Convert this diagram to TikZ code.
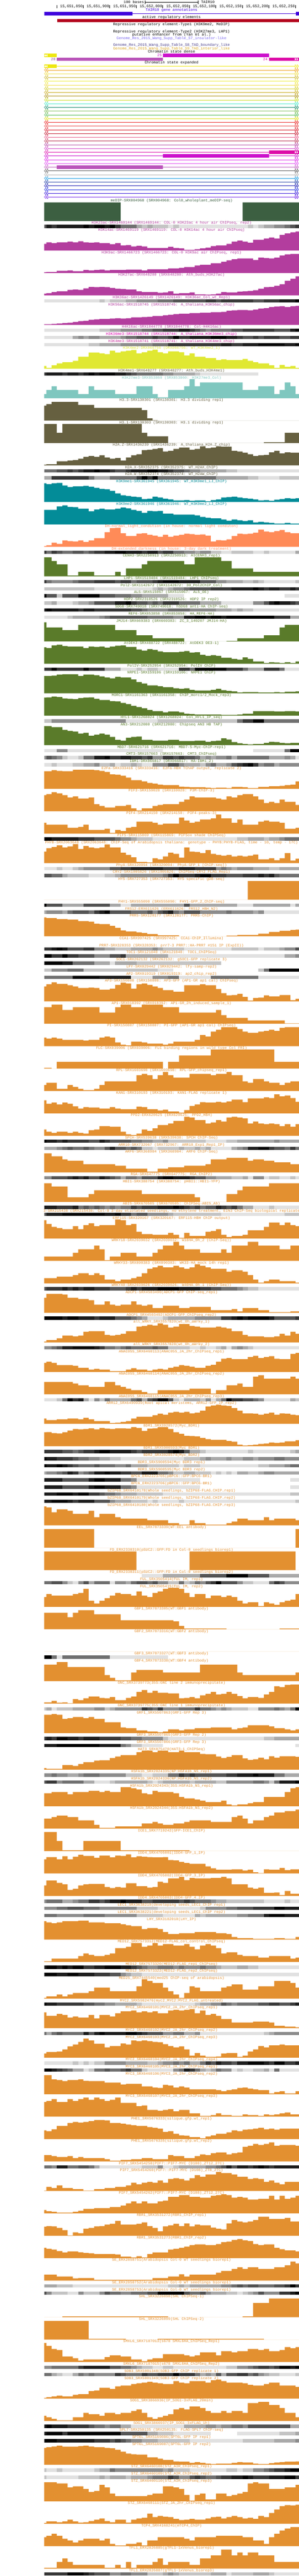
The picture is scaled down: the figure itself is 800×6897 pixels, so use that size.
\documentclass[tikz,border=0pt]{standalone}
\usepackage{fontspec}
\setmainfont{Liberation Mono}
\catcode`\_=12
\definecolor{genec}{HTML}{4000DC}
\definecolor{redb}{HTML}{B4001E}
\definecolor{st7}{HTML}{7B68EE}
\definecolor{st8}{HTML}{483D8B}
\definecolor{st9}{HTML}{DAA520}
\definecolor{medip}{HTML}{3C5F41}
\definecolor{acet}{HTML}{B33D9E}
\definecolor{kts}{HTML}{DC00AC}
\definecolor{kfm}{HTML}{C8329C}
\definecolor{yel}{HTML}{E0E832}
\definecolor{hist}{HTML}{666040}
\definecolor{mint}{HTML}{7FC7BF}
\definecolor{teal2}{HTML}{038C98}
\definecolor{dhc}{HTML}{FF8B58}
\definecolor{grn}{HTML}{5A7B2A}
\definecolor{org}{HTML}{E39030}
\definecolor{s25}{HTML}{CC10CC}
\definecolor{s24}{HTML}{DD0AA8}
\definecolor{s28}{HTML}{BA55BA}
\definecolor{s1}{HTML}{EEE810}
\definecolor{g0}{HTML}{FFFFFF}
\definecolor{g1}{HTML}{E1E1E1}
\definecolor{g2}{HTML}{C4C4C4}
\definecolor{g3}{HTML}{A9A9A9}
\definecolor{g4}{HTML}{8C8C8C}
\definecolor{g5}{HTML}{707070}
\definecolor{g6}{HTML}{545454}
\definecolor{g7}{HTML}{383838}
\definecolor{g8}{HTML}{1C1C1C}
\definecolor{g9}{HTML}{000000}
\tikzset{
  lab/.style={inner sep=0pt,outer sep=0pt,anchor=base,font=\fontsize{10}{12}\selectfont},
  labr/.style={inner sep=0pt,outer sep=0pt,anchor=base east,font=\fontsize{10}{12}\selectfont},
  labl/.style={inner sep=0pt,outer sep=0pt,anchor=base west,font=\fontsize{10}{12}\selectfont},
  thin1/.style={line width=1pt},
  openarrow/.style={line width=0.8pt}
}
\newcount\ycur
\newcount\nn
\expandafter\def\csname E0\endcsname{118}
\foreach \k in {1,...,48}{%
  \pgfmathtruncatemacro\v{round(124+(\k-1)*14.185)}%
  \expandafter\xdef\csname E\k\endcsname{\v}}
\foreach \k in {49,...,60}{\expandafter\xdef\csname E\k\endcsname{800}}
\newcommand\tlabel[2]{%
  \global\advance\nn 1
  \edef\bl{\the\numexpr\ycur+8\relax}%
  \node[lab,text=#2] (tl\the\nn) at (459,\bl) {#1};}
\newcommand\trackW[3]{% label, colour, heights
  \tlabel{#1}{#2}%
  \edef\by{\the\numexpr\ycur+60\relax}%
  \gdef\pth{}%
  \foreach \h [count=\i from 0] in {#3}{%
    \pgfmathsetmacro\ty{round(\by-\h/\zs)}%
    \pgfmathtruncatemacro\j{\i+1}%
    \edef\xa{\csname E\i\endcsname}\edef\xb{\csname E\j\endcsname}%
    \xdef\pth{\pth -- (\xa,\ty) -- (\xb,\ty)}}%
  \edef\dopath{\noexpand\fill[#2] (118,\by) \pth -- (800,\by) -- cycle;}\dopath
  \global\advance\ycur 60 }
\newcommand\trackD[3]{% label, colour, level/endedge
  \tlabel{#1}{#2}%
  \edef\yt{\the\numexpr\ycur+10\relax}\edef\yb{\the\numexpr\ycur+19\relax}%
  \foreach \lv/\ee [remember=\ee as \pe (initially 0)] in {#3}{%
    \edef\xa{\csname E\pe\endcsname}\edef\xb{\csname E\ee\endcsname}%
    \fill[g\lv] (\xa,\yt) rectangle (\xb,\yb);}%
  \global\advance\ycur 19 }
\newcommand\leftopen[1]{%
  \draw[openarrow,#1] (123,\yc-4.5) -- (118.5,\yc) -- (123,\yc+4.5) -- cycle;
  \draw[openarrow,#1] (128,\yc-4.5) -- (123.5,\yc) -- (128,\yc+4.5) -- cycle;}
\newcommand\rightopen[1]{%
  \draw[openarrow,#1] (790,\yc-4.5) -- (794.5,\yc) -- (790,\yc+4.5) -- cycle;
  \draw[openarrow,#1] (795,\yc-4.5) -- (799.5,\yc) -- (795,\yc+4.5) -- cycle;}
\newcommand\whiteleft[1]{%
  \fill[white] (123,#1-3.5) -- (119,#1) -- (123,#1+3.5) -- cycle;
  \fill[white] (127,#1-3.5) -- (123,#1) -- (127,#1+3.5) -- cycle;}
\newcommand\whiteright[1]{%
  \fill[white] (789,#1-3.5) -- (793,#1) -- (789,#1+3.5) -- cycle;
  \fill[white] (794,#1-3.5) -- (798,#1) -- (794,#1+3.5) -- cycle;}
\begin{document}
\begin{tikzpicture}[x=1pt,y=-1pt]
\useasboundingbox (0,0) rectangle (800,6897);
\fill[white] (0,0) rectangle (800,6897);
% scale bar
\node[labr] (bases) at (385,9) {100 bases};
\coordinate (sa) at (388.5,6.5);
\coordinate (sb) at (529.5,6.5);
\draw[thin1] (sa) -- (sb);
\draw[thin1] (388.5,2) -- (388.5,11);
\draw[thin1] (529.5,2) -- (529.5,11);
\node[labl] (asm) at (538,9) {TAIR10};
% ruler
\foreach \x in {152,222,293,364,435,506,577,648,719,790}{\draw[thin1] (\x.5,13.5) -- (\x.5,22);}
\node[labr] (r1) at (221,20) {15,651,850};
\node[labr] (r2) at (292,20) {15,651,900};
\node[labr] (r3) at (363,20) {15,651,950};
\node[labr] (r4) at (434,20) {15,652,000};
\node[labr] (r5) at (505,20) {15,652,050};
\node[labr] (r6) at (576,20) {15,652,100};
\node[labr] (r7) at (647,20) {15,652,150};
\node[labr] (r8) at (718,20) {15,652,200};
\node[labr] (r9) at (789,20) {15,652,250};
\node[lab,text=genec] (t1) at (459,30) {TAIR10 gene annotations};
\fill[genec] (118,32) rectangle (354,41);
\draw[genec,thin1] (354,36.5) -- (792,36.5);
\fill[genec] (792,32) rectangle (800,41);
\node[lab] (t2) at (459,49) {active regulatory elements};
\fill[redb] (153,51) rectangle (800,60);
\node[lab] (t3) at (459,68) {Repressive regulatory element-Type1 (H3K9me2, MeDIP)};
\node[lab] (t4) at (459,87) {Repressive regulatory element-Type2 (H3K27me3, LHP1)};
\node[lab] (t5) at (459,96) {putative enhancer from (Yan et al.)};
\node[lab,text=st7] (t6) at (459,105) {Genome_Res_2015_Wang_Supp_Table_S7_insulator-like};
\node[lab,text=st8] (t7) at (459,124) {Genome_Res_2015_Wang_Supp_Table_S8_TAD_boundary_like};
\node[lab,text=st9] (t8) at (459,133) {Genome_Res_2015_Wang_Supp_Table_S9_TAD_interior_like};
\node[lab] (t9) at (459,142) {Chromatin state dense};
\fill[s1] (118,144) rectangle (152,153);
\whiteleft{148.5}
\node[labr,text=s25] (n25) at (433,151.5) {25};
\fill[s25] (436,144) rectangle (720,153);
\node[labr,text=s28!75!black] (n28) at (148.5,161.5) {28};
\fill[s28] (152,154) rectangle (436,163);
\node[labr,text=s24] (n24) at (716,161.5) {24};
\fill[s24] (720,154) rectangle (800,163);
\whiteright{158.5}
\node[lab] (t10) at (459,171) {Chromatin state expanded};
% expanded rows
\foreach \k/\c in {0/EEE810,1/EE9A10,2/EEDD40,3/C8B428,4/EEEE40,5/F0DC40,6/D0CC20,7/C8A818,8/A88C08,9/C8DC20,10/48E8C8,11/108868,12/70B848,13/50B850,14/DDDD10,15/E81818,16/E84040,17/D81020,18/C01028,19/E85888,20/B83050,21/B040A0,22/D040C8,23/DD0AA8,24/CC10CC,25/DD20E8,26/E050F0,27/BA55BA,28/505050,29/B0B0B0,30/1098E0,31/1030A0,32/1010B0,33/2030E0,34/3010D8,35/7020E8}{%
  \pgfmathsetmacro\yc{177.5+10*\k}
  \definecolor{rowc}{HTML}{\c}
  \draw[rowc,thin1] (128,\yc) -- (790,\yc);
  \ifnum\k=0\relax\else\leftopen{rowc}\fi
  \ifnum\k=23\relax\else\rightopen{rowc}\fi
}
\fill[s1] (118,173) rectangle (152,182);
\whiteleft{177.5}
\fill[s24] (720,403) rectangle (800,412);
\whiteright{407.5}
\fill[s25] (436,413) rectangle (720,422);
\fill[s28] (152,443) rectangle (436,452);
% ---------------- tracks
\global\ycur=532
\def\zs{1}
\trackW{meDIP-SRX004968 (SRX004968: Col0_wholeplant_meDIP-seq)}{medip}{50,50,50,50,50,50,50,50,50,50,50,50,50,50,50,0,0,0,0,0,0,0,0,0,0,0,0,0,0,0,0,0,0,0,0,0,0,0,50,50,50,50,50,50,50,50,50,50,50}
\def\zs{2.613}
\trackD{H3K23ac-SRX1469144 (SRX1469144: COL-0 H3K23ac 4 hour air ChIPseq, rep2)}{acet}{6/1,8/2,7/3,8/8,9/9,8/10,9/12,8/13,9/14,7/15,5/18,3/19,2/20,3/21,2/24,1/25,2/26,1/39,2/40,1/41,2/42,3/44,4/46,5/47,6/48,7/49}
\trackW{H3K14ac-SRX1469119 (SRX1469119: COL-0 H3K14ac 4 hour air ChIPseq)}{acet}{47,57,52,57,57,62,57,65,57,54,57,52,52,44,52,36,39,28,33,28,17,17,17,17,26,18,15,5,5,10,15,20,32,36,36,47,62,70,62,54,75,75,83,91,83,109,120,128,133}
\trackW{H3K9ac-SRX1466723 (SRX1466723: COL-0 H3K9ac air ChIPseq, rep1)}{acet}{4,7,9,15,15,18,13,13,21,18,21,23,18,21,21,21,23,23,23,18,26,26,26,26,31,31,36,42,42,52,57,57,68,68,78,89,96,102,102,102,91,107,104,102,107,123,130,133,133}
\trackW{H3K27ac-SRX648280 (SRX648280: Ath_buds_H3K27ac)}{acet}{13,16,23,29,29,39,42,39,50,60,57,60,57,52,47,44,42,42,29,23,23,23,18,21,29,13,16,16,21,8,8,5,8,13,23,21,21,26,29,31,36,47,57,60,68,78,102,118,133}
\trackD{H3K36ac-SRX1426149 (SRX1426149: H3K36ac_Col_wt_Rep1)}{acet}{1/11,2/12,1/13,2/16,3/18,4/22,5/25,6/31,7/33,6/34,7/40,6/42,7/45,8/48,9/49}
\trackW{H3K56ac-SRX1518745 (SRX1518745: A_thaliana_H3K56ac_chip)}{acet}{6,6,8,11,14,16,21,27,29,37,40,42,42,45,47,45,47,53,53,55,58,62,62,68,71,76,79,79,84,84,87,87,89,89,92,100,102,105,105,102,108,115,118,126,129,131,126,131,134}
\trackD{H4K16ac-SRX1044778 (SRX1044778: Col-H4K16ac)}{acet}{1/11,2/13,3/15,4/19,5/21,6/23,7/26,8/28,7/29,6/30,5/31,4/32,5/36,6/38,7/44,6/47,8/48,9/49}
\trackD{H3K36me3-SRX1518744 (SRX1518744: A_thaliana_H3K36me3_chip)}{kts}{1/6,3/7,4/8,3/9,4/11,3/15,4/16,5/18,6/21,7/22,6/24,7/25,9/26,7/28,8/32,9/35,8/37,7/38,6/40,7/41,6/42,7/45,6/47,7/49}
\trackD{H3K4me3-SRX1518741 (SRX1518741: A_thaliana_H3K4me3_chip)}{kfm}{1/9,2/11,3/15,4/21,5/24,7/34,8/36,7/38,8/41,9/46,8/48,9/49}
\trackW{H3K4me2-DRX066756 (DRX066756: WT_H3K4me2_1)}{yel}{18,5,23,36,44,44,55,83,83,112,112,107,102,125,112,120,125,130,107,115,125,133,115,107,120,120,115,91,107,83,83,73,73,60,65,60,60,60,68,55,44,36,36,23,5,26,13,18,5}
\trackD{H3K4me1-SRX648277 (SRX648277: Ath_buds_H3K4me1)}{hist}{7/1,8/4,7/5,8/7,7/8,8/9,9/10,8/11,9/14,8/16,7/17,6/18,5/23,4/25,3/29,2/30,1/41,0/49}
\trackW{H3K27me3-SRX853860 (SRX853860: H3K27me3_Col)}{mint}{28,57,83,57,57,57,57,28,28,83,57,57,57,57,28,28,28,28,83,83,83,28,4,4,57,57,57,83,133,83,109,109,109,109,109,109,109,109,57,57,57,83,83,83,28,57,109,83,28}
\def\zs{1}
\trackW{H3.3-SRX130301 (SRX130301: H3.3 dividing rep1)}{hist}{40,44,50,50,50,50,50,42,42,42,34,34,34,34,34,34,34,34,34,28,6,1,0,0,0,0,0,0,0,0,0,0,0,0,0,0,0,0,0,0,0,0,0,0,0,0,0,0,0}
\def\zs{2.24}
\trackW{H3.1-SRX130303 (SRX130303: H3.1 dividing rep1)}{hist}{114,114,114,61,114,114,114,114,114,114,114,114,114,114,114,114,114,114,114,61,40,40,40,40,0,0,0,0,0,0,0,0,0,0,0,0,0,0,0,0,0,0,4,4,4,4,61,61,61}
\trackW{H2A.Z-SRX1436239 (SRX1436239: A_thaliana_H2A.Z_chip)}{hist}{4,6,6,24,24,29,31,40,51,56,52,60,47,40,45,29,47,60,67,92,94,98,103,83,87,98,107,107,94,98,114,103,107,114,112,112,87,83,76,67,56,60,62,78,87,71,78,76,76}
\trackD{H2A.X-SRX352375 (SRX352375: WT_H2AX_ChIP)}{hist}{5/3,6/5,7/6,6/7,7/8,8/10,9/11,8/13,7/14,6/16,7/17,8/20,9/22,8/24,7/25,6/27,5/28,4/30,3/35,2/37,1/49}
\trackD{H2A.W-SRX352374 (SRX352374: WT_H2AW_ChIP)}{hist}{3/2,7/9,5/10,3/13,5/18,7/19,9/20,7/21,9/22,5/33,3/39,2/41,1/45,2/49}
\trackW{H3K9me1-SRX361945 (SRX361945: WT_H3K9me1_LJ_ChIP)}{teal2}{112,108,112,114,99,90,94,94,97,92,85,79,76,67,51,41,36,32,29,18,20,32,27,20,16,8,8,11,6,8,8,5,11,15,27,29,32,27,23,20,15,9,11,6,14,18,23,20,23}
\trackW{H3K9me2-SRX361946 (SRX361946: WT_H3K9me2_LJ_ChIP)}{teal2}{87,87,87,107,114,105,103,94,94,78,89,94,89,89,94,101,96,87,80,69,80,78,80,65,65,58,58,58,58,54,45,40,36,36,29,22,29,24,20,24,11,15,11,9,4,4,9,4,4}
\trackW{DH-normal_light_condition (in house: normal light conditon)}{dhc}{4,8,25,18,38,34,32,38,30,38,52,52,88,111,115,81,65,65,79,81,72,68,61,72,61,68,72,79,77,72,74,68,32,41,38,45,65,79,77,79,86,103,92,88,94,101,88,81,81}
\trackD{DH-extended_darkness (in house: 3-day dark treatment)}{dhc}{7/1,5/2,7/3,6/4,5/6,6/8,5/9,6/10,7/12,8/14,9/16,8/19,7/20,8/22,6/23,7/25,5/27,4/29,3/30,4/32,2/34,1/36,2/40,1/42,2/43,1/48,3/49}
\trackW{CENH3-SRX2250913 (SRX2250913: AtCENH3_rep1)}{grn}{115,115,92,72,72,5,5,27,27,27,5,5,5,5,27,5,47,47,47,72,92,92,92,92,92,92,92,72,72,115,115,115,115,115,92,92,47,47,47,47,27,27,27,27,27,27,27,27,27}
\trackD{LHP1-SRX1519404 (SRX1519404: LHP1 ChIPseq)}{grn}{7/1,5/2,4/6,5/7,6/10,7/14,6/15,7/17,5/18,6/21,7/22,8/23,9/26,8/30,6/33,4/35,3/38,2/40,3/41,2/42,1/48,2/49}
\trackD{Pol2-SRX1142672 (SRX1142672: 30_Pol2ChIP_Col)}{grn}{2/10,1/21,2/22,3/23,2/24,3/25,4/27,5/28,6/32,7/36,8/40,9/41,8/42,7/43,8/45,7/47,8/48,7/49}
\trackD{AL5-SRX515067 (SRX515067: AL5_OE)}{grn}{9/1,6/3,2/4,6/7,9/11,6/14,5/17,4/19,3/24,1/27,0/46,1/49}
\trackD{HDP2-SRX2310526 (SRX2310526: HDP2 IP rep2)}{grn}{2/2,3/3,1/6,2/7,3/9,4/10,6/14,8/16,9/17,7/18,6/20,5/21,6/22,5/23,7/26,5/30,3/34,1/40,4/42,6/43,8/44,9/45,8/47,7/48,6/49}
\trackD{SDG8-SRX749018 (SRX749018: hSDG8 anti-HA ChIP-seq)}{grn}{8/1,9/2,8/7,7/8,8/10,7/17,6/19,5/20,4/24,5/28,4/33,3/36,2/37,3/38,2/40,1/49}
\trackD{REF6-SRX853858 (SRX853858: HA_REF6-HA)}{grn}{1/5,2/6,3/11,4/12,5/13,6/20,5/25,4/27,8/29,9/31,8/32,9/34,8/35,9/44,7/47,3/49}
\trackW{JMJ14-SRX669383 (SRX669383: ZC_3_140207 JMJ14-HA)}{grn}{114,83,83,83,67,67,67,99,99,99,99,99,99,99,67,67,67,67,35,35,35,19,19,19,19,19,19,0,0,0,0,0,0,0,0,3,3,19,19,19,19,19,35,35,35,83,99,99,99}
\trackW{AtDEK3-SRX488722 (SRX488722: AtDEK3 OE3-1)}{grn}{99,94,110,115,106,103,103,103,94,103,101,103,97,103,108,110,101,101,85,79,88,83,74,70,70,70,72,76,67,70,54,47,52,47,36,36,29,25,38,29,13,13,4,8,6,4,8,4,13}
\trackD{PolIV-SRX252954 (SRX252954: PolIV ChIP)}{grn}{7/2,9/3,7/8,9/9,7/12,3/15,1/18,2/19,1/20,2/22,1/26,7/28,5/29,9/35,7/38,5/39,3/42,7/45,5/46,1/49}
\trackW{NRPE1-SRX159106 (SRX159106: NRPE1 ChIP)}{grn}{103,103,106,112,115,115,115,103,112,112,108,101,94,90,99,94,94,83,67,58,47,47,43,36,36,29,27,29,20,16,16,16,20,27,18,14,11,5,7,7,7,5,5,5,7,5,9,9,12}
\trackW{MORC1-SRX1161363 (SRX1161358: ChIP_morc1/2_Mock_rep3)}{grn}{107,110,114,112,103,101,98,105,107,110,101,94,94,87,85,76,69,58,51,44,33,27,27,20,25,25,20,12,9,7,7,7,7,7,4,4,4,7,11,11,27,27,27,27,25,25,27,27,25}
\trackD{HYL1-SRX1268024 (SRX1268024: Col_HYL1_IP_seq)}{grn}{2/2,4/16,1/22,2/37,5/38,7/40,9/42,5/49}
\trackW{AN3-SRX212080 (SRX212080: Chipseq AN3 HB TAP)}{grn}{114,114,107,107,92,85,81,69,74,56,63,69,63,49,31,27,45,49,51,31,31,27,27,27,31,31,25,25,25,27,27,20,25,27,40,34,18,11,7,4,7,7,13,20,18,13,11,13,13}
\trackD{MBD7-SRX621716 (SRX621716: MBD7-5-Myc-ChIP-rep1)}{grn}{1/3,4/5,1/23,0/40,1/46,5/47,9/49}
\trackD{CMT3-SRX157663 (SRX157663: CMT3_ChIPseq)}{grn}{4/1,6/2,5/3,4/4,2/5,1/7,2/8,5/10,8/12,9/13,7/15,8/17,7/19,6/20,7/21,4/23,7/25,6/26,7/27,6/29,5/30,3/31,4/32,3/33,4/35,5/36,3/37,5/43,3/46,4/47,3/48,1/49}
\trackD{IBM1-DRX066817 (DRX066817: HA-IBM1_2)}{grn}{1/2,2/3,1/6,2/8,3/10,4/11,2/13,3/14,1/15,2/17,3/18,2/19,1/21,4/24,6/26,4/27,3/30,2/31,4/32,5/33,3/35,4/36,6/37,7/38,8/39,9/40,7/41,4/42,5/44,3/45,4/49}
\trackW{E2Fa-SRX333416 (SRX333416: E2Fa-HBH TChAP output, replicate 2)}{org}{105,105,112,107,105,105,114,114,114,114,112,107,101,87,85,78,67,51,51,45,36,31,24,22,22,22,13,11,8,8,8,6,4,6,6,4,11,11,8,4,4,11,11,16,16,17,22,24,45}
\trackW{PIF3-SRX159028 (SRX159028: P3M-ChIP-3)}{org}{97,104,115,108,97,84,90,77,77,84,43,32,23,23,32,32,39,18,5,18,18,32,39,43,43,43,56,70,90,84,84,84,84,77,70,90,84,97,104,104,90,70,50,56,50,70,56,56,39}
\trackW{PIF4-SRX214150 (SRX214150: PIF4-peaks-3)}{org}{65,54,54,54,54,36,36,40,54,22,22,22,29,5,22,15,36,40,72,72,72,65,54,61,61,61,96,79,65,72,85,85,92,114,92,92,65,85,54,54,54,72,79,72,72,65,29,29,36}
\trackD{PIF5-SRX115869 (SRX115869: PIF5ox shade ChIPSeq)}{org}{9/2,8/7,7/10,6/14,5/15,4/17,3/18,2/21,1/37,2/39,3/42,2/43,3/45,4/46,5/49}
\trackW{PHYB-SRX2063648 (SRX2063648: ChIP-Seq of Arabidopsis thaliana: genotype - PHYB:PHYB-FLAG, time - 10, temp - 17C)}{org}{70,90,96,108,94,101,114,85,103,94,90,94,112,94,94,63,49,36,7,7,5,29,22,40,63,56,34,94,70,67,61,79,56,49,45,49,40,45,40,45,52,22,22,29,18,29,61,16,27}
\trackD{PhyA-SRX320094 (SRX320094: PhyA-GFP_1 [ChIP-seq])}{org}{1/3,2/4,1/6,2/7,3/8,4/13,6/15,7/17,8/23,7/26,8/29,7/33,4/34,5/35,4/36,3/37,4/40,3/43,2/45,3/49}
\trackD{CRY2-SRX1005826 (SRX1005826: ChIPSeq-CRY2_FLAG_Rep1)}{org}{6/2,5/4,3/5,2/9,1/12,2/14,3/15,4/23,5/24,7/25,9/26,7/29,8/30,9/32,7/35,6/38,7/41,8/42,7/43,8/44,6/45,5/49}
\trackW{HY5-SRX727353 (SRX727353: HY5 specific gDB-seq)}{org}{0,0,0,0,0,0,0,0,0,0,0,0,0,0,0,0,0,0,0,0,0,0,0,0,0,0,0,0,0,0,0,0,0,0,0,0,0,0,0,112,112,112,112,112,112,112,112,112,112}
\trackD{FHY1-SRX555090 (SRX555090: FHY1-GFP_2_ChIP-seq)}{org}{9/1,6/4,3/8,6/13,3/15,1/17,3/27,6/28,3/37,1/40,3/47,1/48,3/49}
\trackD{FRS12-ERX611626 (ERX611626: FRS12_HBH_N2)}{org}{3/1,4/4,3/5,5/6,6/9,5/10,7/11,8/12,9/13,6/17,5/20,6/21,4/22,6/23,7/24,8/25,5/26,4/27,6/30,4/35,5/36,4/40,3/41,4/42,1/49}
\trackW{PRR5-SRX128177 (SRX128177: PRR5-ChIP)}{org}{114,109,109,104,102,100,100,92,92,87,76,74,74,62,52,36,29,29,25,21,13,13,6,6,6,6,0,0,0,0,0,0,0,0,0,4,4,9,9,9,9,16,16,26,26,33,33,38,41}
\trackD{CCA1-SRX997425 (SRX997425: CCA1-ChIP_Illumina)}{org}{0/49}
\trackD{PRR7-SRX328353 (SRX328353: prr7-3 PRR7::HA-PRR7 \#151 IP (ExpII))}{org}{7/2,8/3,9/4,8/5,6/8,7/10,4/12,3/14,2/17,3/21,4/22,3/23,2/27,1/36,2/41,1/42,2/45,3/46,4/48,6/49}
\trackD{TOC1-SRX121040 (SRX121040: TOC1_ChIPSeq)}{org}{9/2,7/4,9/5,7/7,6/10,4/13,6/15,7/16,3/24,1/46,3/48,4/49}
\trackD{SOC1-SRX262132 (SRX262132: gSOC1-GFP replicate 3)}{org}{9/4,8/6,5/10,3/13,1/14,3/18,2/34,0/49}
\trackD{LFY-SRX029442 (SRX029442: lfy-samp-rep2)}{org}{2/2,4/5,5/8,2/22,1/25,0/41,2/42,5/43,9/49}
\trackD{AP2-SRX019319 (SRX019319: ap2_chip_rep2)}{org}{5/6,9/11,8/17,1/21,4/24,5/26,1/32,5/41,1/49}
\trackW{AP3-SRX150808 (SRX150808: AP3-GFP (AP1-GR ap1 cal) ChIPseq)}{org}{90,103,115,106,106,97,90,81,81,83,81,70,70,76,99,112,108,76,103,108,99,90,81,68,68,59,59,97,97,97,103,97,97,74,50,36,38,45,27,5,20,23,36,29,29,38,38,7,16}
\trackW{AP1-SRX018392 (SRX018392: AP1-GR_2h_induced_sample_1)}{org}{98,98,114,114,83,83,98,98,98,98,98,67,67,67,98,114,114,98,98,114,114,114,114,98,98,98,67,67,67,67,67,67,67,83,51,36,36,36,36,20,20,20,20,20,20,20,3,3,3}
\trackW{PI-SRX150807 (SRX150807: PI-GFP (AP1-GR ap1 cal) ChIPseq)}{org}{51,44,51,44,38,38,38,38,33,38,38,51,58,51,22,8,4,26,26,22,15,15,15,8,15,26,26,26,26,38,67,58,87,98,114,114,114,103,87,80,80,87,91,98,91,109,114,114,114}
\trackW{FLC-SRX039006 (SRX039006: FLC binding regions in wild type Col FRI)}{org}{4,4,0,40,40,40,40,40,40,40,40,40,40,40,40,40,40,40,40,40,40,40,40,0,40,40,79,79,79,79,79,79,114,114,114,114,114,114,114,114,114,114,114,114,40,40,40,40,40}
\trackW{RPL-SRX1603698 (SRX1603698: RPL-GFP_chipseq_rep1)}{org}{36,49,49,13,13,36,24,13,4,4,13,36,58,58,58,58,58,58,94,103,94,71,94,114,94,80,80,80,103,103,103,103,94,103,103,114,94,94,58,49,71,71,58,49,49,36,49,58,58}
\trackW{KAN1-SRX310193 (SRX310193: KAN1-FLAG replicate 1)}{org}{79,59,65,54,65,59,43,29,38,36,36,29,29,38,29,25,25,25,41,38,25,25,18,23,11,11,5,20,45,54,68,65,65,70,65,72,83,83,68,90,90,90,97,92,115,103,108,92,70}
\trackW{PPD2-ERX620625 (ERX620625: PPD2_HBH)}{org}{38,25,18,25,25,18,25,18,13,34,38,58,58,54,54,25,9,4,13,38,29,45,65,65,74,90,90,114,110,94,94,74,81,94,85,110,114,110,105,74,85,74,69,74,69,58,69,54,69}
\trackD{SPCH-SRX539638 (SRX539638: SPCH ChIP-Seq)}{org}{9/1,8/3,7/4,8/5,7/9,6/11,8/12,7/13,6/17,5/19,4/21,3/23,4/24,2/31,1/35,2/37,3/44,4/45,3/49}
\trackD{ARR10-SRX732967 (SRX732967: ARR10_Exp1_Rep1_IP)}{org}{3/3,4/4,5/5,6/6,5/8,6/9,5/10,4/12,6/13,8/14,6/16,5/17,6/18,5/19,2/21,1/22,2/26,3/27,2/29,3/30,2/31,3/32,1/36,3/37,4/38,5/39,8/41,9/43,7/44,6/46,5/47,7/48,5/49}
\trackW{ARF6-SRX368984 (SRX368984: ARF6 ChIP-Seq)}{org}{115,115,97,97,79,70,70,70,50,50,50,50,50,50,41,41,23,23,23,23,5,5,23,23,32,32,32,41,41,41,41,50,79,79,79,88,88,88,88,70,79,79,70,70,61,61,61,50,50}
\trackD{RGA-SRX647775 (SRX647775: RGA_ChIP2)}{org}{4/2,6/5,7/6,8/7,7/8,8/9,6/11,8/12,7/13,6/14,5/15,3/16,5/18,4/19,6/22,8/23,9/25,8/28,7/29,6/31,4/33,3/36,2/38,3/39,1/40,4/42,1/43,2/45,1/47,2/48,1/49}
\def\zs{1}
\trackW{HBI1-SRX388754 (SRX388754: pHBI1::HBI1-YFP)}{org}{50,50,41,41,41,12,12,12,12,21,31,31,31,31,31,31,31,31,31,21,21,21,21,21,21,21,21,21,21,12,0,0,0,0,0,21,21,31,41,41,41,41,41,50,50,50,50,50,50}
\def\zs{2.09}
\trackD{ABI5-SRX670505 (SRX670505: ChIPSeq-ABI5_Ab)}{org}{8/3,7/6,8/7,5/8,6/9,5/10,6/11,5/12,4/13,5/14,4/15,5/17,7/18,6/19,7/22,8/25,9/26,8/27,7/28,6/29,7/30,5/31,6/33,8/34,7/35,6/36,7/37,5/38,3/40,1/43,2/44,1/49}
\begin{scope}
\edef\yt{\the\ycur}\edef\yb{\the\numexpr\ycur+10\relax}
\clip (118,\yt) rectangle (800,\yb);
\tlabel{EIN3-SRX215430 (SRX215430: Col-0 3-day etiolated seedlings, no ethylene treatment, EIN3 ChIP-Seq biological replicate 1)}{org}
\end{scope}
\trackD{}{org}{6/1,8/4,9/12,8/14,9/15,7/17,5/18,6/20,4/24,3/25,2/34,1/46,2/49}
\trackW{ERF115-SRX320167 (SRX320167: ERF115-HBH ChIP output)}{org}{103,82,65,59,53,53,69,53,76,86,69,76,76,76,107,103,76,82,38,25,25,21,21,21,32,21,5,32,15,15,15,38,42,53,21,9,15,15,21,46,46,46,65,90,90,76,90,76,69}
\trackW{WRKY18-SRX2039032 (SRX2039032: W18HA_0h_2 (ChIP-Seq))}{org}{25,25,25,25,25,25,46,65,65,65,86,65,4,25,25,46,46,46,25,25,25,46,65,86,86,107,86,65,65,65,46,46,46,46,65,46,86,86,86,107,107,86,86,86,86,65,65,86,86}
\trackW{WRKY33-SRX890383 (SRX890383: WK33-HA mock 14h rep1)}{org}{29,29,29,37,37,37,46,56,56,46,56,46,20,20,12,20,20,29,37,56,81,89,98,89,89,98,89,81,89,106,98,89,81,81,81,64,73,73,64,46,20,4,12,20,20,12,12,12,4}
\trackD{WRKY40-SRX2039026 (SRX2039026: W40HA_0h_1 (ChIP-Seq))}{org}{6/1,7/4,8/5,7/6,8/7,7/8,8/10,7/13,6/16,7/17,8/18,7/19,8/22,9/26,8/30,7/32,6/34,5/37,4/38,3/39,2/41,1/49}
\trackW{ADCP1-SRX4503490(ADCP1-GFP ChIP-seq_rep1)}{org}{84,107,107,107,103,84,84,78,78,71,46,46,65,46,40,46,46,65,46,40,46,28,28,40,40,40,28,28,34,34,34,34,15,15,15,15,21,9,28,28,28,15,15,4,4,4,4,9,9}
\trackD{ADCP1_SRX4503492(ADCP1-GFP_ChIPseq_rep2)}{org}{9/4,8/5,9/7,8/10,7/11,8/14,6/17,5/18,4/19,3/20,1/23,2/24,3/29,4/34,7/36,8/37,9/38,8/39,9/43,8/44,6/48,7/49}
\trackW{all_WRKY_SRX3557820(wt_0h_aWrky_1)}{org}{4,13,13,23,38,38,34,38,59,63,63,63,42,38,42,48,63,63,88,92,98,94,107,98,84,88,103,103,92,88,84,84,84,88,84,78,63,63,42,34,34,34,29,29,34,48,38,59,48}
\trackD{all_WRKY_SRX3557828(wt_0h_aWrky_2)}{org}{4/2,5/3,6/4,8/6,9/10,8/11,7/12,5/14,4/15,5/16,6/17,5/21,6/22,5/24,2/28,1/30,2/31,1/33,2/34,3/35,1/36,3/37,4/38,3/39,2/40,1/49}
\trackW{ANAC055_SRX6460113(ANAC055_JA_2hr_ChIPseq_rep1)}{org}{50,56,50,38,38,38,33,23,23,13,17,13,13,4,4,4,13,21,13,13,6,13,17,13,23,29,38,33,29,23,23,33,40,56,73,77,71,71,71,84,90,77,84,88,73,71,71,100,107}
\trackW{ANAC055_SRX6460114(ANAC055_JA_2hr_ChIPseq_rep2)}{org}{69,69,69,69,69,69,60,50,50,41,41,41,69,69,50,41,31,23,23,13,4,4,23,23,23,23,23,23,31,31,31,31,4,23,23,50,50,60,41,41,98,106,88,88,88,88,88,98,88}
\trackD{ANAC055_SRX6460115(ANAC055_JA_2hr_ChIPseq_rep3)}{org}{1/3,2/4,5/5,9/6,7/7,8/8,3/9,1/10,4/11,2/12,5/13,3/17,5/18,6/19,3/20,6/21,7/22,9/24,6/25,2/26,1/27,3/30,2/31,4/32,1/33,3/34,5/35,9/36,7/38,6/40,5/41,4/42,1/47,3/48,2/49}
\trackW{ARR12_SRX6490939(Root apical meristems, ARR12-GFP_IP_rep2)}{org}{30,21,21,26,26,30,30,26,34,26,15,15,15,5,7,11,15,30,40,40,40,49,57,51,63,67,63,67,59,63,74,97,103,107,103,101,88,74,59,59,57,51,57,63,51,59,57,51,49}
\trackW{BDR1_SRX3928572(Myc_BDR1)}{org}{77,79,73,71,77,88,96,94,96,100,94,102,98,96,100,100,98,107,102,86,98,100,107,107,96,77,69,59,56,54,46,40,35,35,35,29,25,8,4,6,8,13,15,21,19,21,27,27,33}
\trackD{BDR1_SRX5900593(Myc BDR1)}{org}{7/4,6/6,5/7,6/8,7/10,8/11,9/13,8/17,7/18,6/19,7/24,8/25,9/26,8/27,6/28,3/30,2/31,1/39,2/40,1/47,2/48,3/49}
\trackD{BDR2_SRX3928574(Myc_BDR2)}{org}{9/1,8/3,7/6,6/7,5/9,4/11,3/13,2/15,1/27,2/30,3/31,4/32,3/35,4/36,3/38,4/40,3/41,4/44,5/46,4/49}
\trackD{BDR3_SRX5900594(Myc BDR3 rep1)}{org}{9/1,8/3,9/4,8/5,7/6,6/7,5/10,6/11,5/14,4/16,5/17,3/20,2/26,1/27,2/30,1/41,2/43,3/46,4/47,5/49}
\trackD{BDR3_SRX5900595(Myc BDR3 rep2)}{org}{3/1,4/3,5/4,6/5,8/6,7/7,4/8,5/9,6/10,8/12,9/13,8/15,7/17,6/19,8/22,5/24,4/25,2/27,3/29,2/32,1/33,2/34,1/35,2/36,1/37,3/39,2/41,3/42,4/44,3/49}
\trackD{BPC6_ERX2223705(pBPC6::GFP:BPC6-BR1)}{org}{8/4,6/9,8/10,9/12,8/15,5/17,4/18,1/30,0/47,1/49}
\trackD{BPC6_ERX2223706(pBPC6::GFP:BPC6-BR1)}{org}{8/4,6/9,8/10,9/12,8/15,5/17,4/18,1/30,0/47,1/49}
\trackD{bZIP68_SRX6410178(Whole seedlings, bZIP68-FLAG.CHIP.rep1)}{org}{8/3,9/6,8/7,9/9,7/11,6/12,5/14,4/15,3/18,2/23,1/47,2/49}
\trackD{bZIP68_SRX6410179(Whole seedlings, bZIP68-FLAG.CHIP.rep2)}{org}{8/2,9/5,8/6,7/7,8/10,6/13,4/14,3/17,2/20,1/21,2/22,1/26,2/27,1/48,2/49}
\trackW{bZIP68_SRX6410180(Whole seedlings, bZIP68-FLAG.CHIP.rep3)}{org}{106,100,73,90,90,81,65,65,65,81,46,65,65,65,46,37,37,37,37,37,29,29,29,29,12,12,4,4,29,12,12,4,4,4,4,12,21,37,37,29,29,29,46,29,37,37,37,37,29}
\trackW{EEL_SRX7873339(WT:EEL antibody)}{org}{105,105,105,105,105,105,105,105,105,105,0,0,0,0,0,0,0,0,0,0,0,0,0,0,0,0,0,0,0,0,0,0,0,0,0,0,0,0,0,0,0,0,0,0,0,0,0,0,105}
\trackW{FD_ERX2338310(pSUC2::GFP:FD in Col-0 seedlings biorep1)}{org}{105,105,105,105,105,105,105,105,105,105,105,105,105,105,105,105,105,105,0,0,0,0,0,0,0,0,0,0,105,105,105,105,105,105,105,105,105,105,105,105,105,105,105,105,105,105,105,105,0}
\trackD{FD_ERX2338311(pSUC2::GFP:FD in Col-0 seedlings biorep2)}{org}{0/19,1/23,3/30,6/35,9/39,6/43,3/49}
\trackD{FUL_SRX3505414(FUL IM, rep1)}{org}{5/2,6/4,4/5,2/6,1/7,4/8,6/9,3/10,5/13,1/14,4/16,3/17,5/18,6/20,5/21,6/22,4/24,2/26,5/27,2/28,3/29,5/30,4/31,6/32,7/33,9/34,6/37,4/38,2/40,1/43,5/44,7/45,6/46,4/49}
\trackW{FUL_SRX3505415(FUL IM, rep2)}{org}{54,71,63,63,63,63,71,77,100,33,19,33,48,63,77,71,71,63,86,63,54,77,86,100,107,107,100,77,54,71,71,48,63,63,54,63,54,33,19,25,25,4,25,19,10,25,33,40,71}
\trackW{GBF1_SRX7873305(WT:GBF1 antibody)}{org}{92,92,92,92,92,66,92,106,106,106,83,83,83,83,83,50,50,50,50,50,50,50,50,50,50,43,18,4,4,4,4,4,4,4,4,0,0,0,0,0,0,0,0,0,0,4,4,4,4}
\trackW{GBF2_SRX7873316(WT:GBF2 antibody)}{org}{0,0}
\trackD{GBF3_SRX7873327(WT:GBF3 antibody)}{org}{9/2,5/3,1/4,5/13,1/24,0/49}
\trackW{GBF4_SRX7873338(WT:GBF4 antibody)}{org}{92,92,92,107,107,79,79,79,79,79,79,79,33,19,4,4,4,48,63,63,63,63,63,48,48,48,48,48,48,48,92,92,92,92,92,92,92,48,33,33,33,33,33,33,33,33,33,33,48}
\trackW{GNC_SRX3739773(35S:GNC line 2 immunoprecipitate)}{org}{6,6,14,4,6,3,25,18,29,39,39,31,29,35,18,18,31,39,64,75,60,71,60,60,56,56,29,31,35,29,46,54,64,50,54,64,54,41,29,35,35,31,50,64,96,92,104,106,106}
\trackD{GNC_SRX3739775(35S:GNC line 1 immunoprecipitate)}{org}{2/1,3/2,1/3,2/6,3/10,4/12,2/13,3/14,4/19,7/20,6/21,5/22,7/23,4/26,5/29,7/30,5/32,4/33,3/34,4/35,3/36,2/39,1/41,4/44,5/45,4/46,3/47,5/48,9/49}
\trackW{GRF1_SRX5507863(GRF1-GFP Rep 3)}{org}{103,103,107,103,80,84,90,90,84,90,80,80,61,61,61,32,28,28,15,15,9,9,5,9,21,21,15,21,21,28,28,28,32,32,32,32,21,28,32,44,44,44,44,38,28,28,21,15,21}
\trackD{GRF3_SRX5507865(GRF3-GFP Rep 2)}{org}{7/1,8/2,7/3,9/5,8/7,7/8,8/11,7/15,6/17,5/19,4/23,2/24,1/42,2/44,3/49}
\trackD{GRF3_SRX5507866(GRF3-GFP Rep 3)}{org}{8/3,9/11,8/15,5/16,4/17,2/19,1/23,0/48,1/49}
\trackW{HAT3_SRX875470(HAT3-1_ChIPSeq)}{org}{9,5,5,5,26,26,21,32,42,42,51,53,53,65,74,82,82,82,98,106,106,98,106,106,98,98,106,98,98,98,88,85,85,74,65,72,82,82,63,55,59,67,59,76,67,76,76,76,72}
\trackD{HSFA1b_SRX2024335(NP:HSFA1b_NS_rep1)}{org}{4/2,5/3,4/5,3/7,4/8,5/11,4/16,2/19,1/21,2/24,5/26,7/27,6/28,7/29,6/35,7/37,8/40,9/41,8/44,5/46,3/49}
\trackD{HSFA1b_SRX2024336(NP:HSFA1b_NS_rep2)}{org}{6/1,7/3,4/4,5/8,3/10,1/13,2/14,3/20,2/21,1/22,2/23,3/28,2/29,3/33,2/35,4/40,5/42,4/43,2/44,5/45,8/48,9/49}
\trackW{HSFA1b_SRX2024343(35S:HSFA1b_NS_rep1)}{org}{73,73,79,79,79,66,79,79,79,85,85,79,85,79,79,106,106,100,94,73,66,85,79,79,79,73,52,43,43,37,31,22,22,22,31,10,4,10,10,16,22,22,52,52,52,52,79,100,106}
\trackW{HSFA1b_SRX2024344(35S:HSFA1b_NS_rep2)}{org}{57,57,65,73,73,65,65,46,46,46,21,4,4,4,12,12,12,12,12,29,29,38,29,21,21,29,29,38,46,46,46,46,38,38,38,38,65,73,57,29,46,46,65,73,90,90,98,98,107}
\trackW{ICE1_SRX7719242(GFP-ICE1_ChIP)}{org}{106,106,106,56,4,4,4,4,56,56,56,56,56,56,56,4,4,4,4,4,4,4,4,4,4,4,4,4,0,0,0,0,0,0,0,0,0,0,0,0,0,0,0,0,0,0,0,0,0}
\trackW{IDD4_SRX4705001(IDD4-GFP_1_IP)}{org}{80,92,92,80,96,80,94,105,99,99,88,101,101,90,101,99,107,90,96,94,92,90,90,92,76,73,65,59,55,55,55,40,30,21,21,21,23,23,17,21,7,3,23,21,21,32,19,23,23}
\trackW{IDD4_SRX4705002(IDD4-GFP_3_IP)}{org}{58,86,86,73,65,33,40,59,65,67,67,67,50,44,50,46,71,71,54,54,46,50,79,73,98,98,106,88,100,98,98,98,100,100,106,98,65,65,65,46,40,46,17,17,19,4,27,12,12}
\trackD{IDD4_SRX4705003(IDD4-GFP_4_IP)}{org}{4/1,5/4,3/6,4/7,5/9,7/11,6/12,7/13,8/15,9/16,8/19,6/21,7/26,6/27,7/28,6/29,5/32,4/33,3/35,2/42,1/46,2/47,1/49}
\trackD{LEC1_SRX3638219(developing seeds_LEC1_ChIP rep1)}{org}{4/3,5/5,6/8,5/11,4/18,2/22,1/30,2/31,4/35,5/37,6/40,7/44,9/46,8/49}
\trackD{LEC1_SRX3638221(developing seeds_LEC1_ChIP rep2)}{org}{5/3,4/8,5/12,4/18,2/23,1/29,3/30,2/31,3/37,4/39,5/42,8/43,9/46,8/49}
\trackW{LHY_SRX3182010(LHY_IP)}{org}{103,96,92,96,103,103,103,107,107,96,96,96,92,92,92,86,80,75,75,59,65,65,59,42,32,32,36,36,36,42,42,42,42,36,36,32,15,9,9,9,4,4,4,4,9,9,4,4,15}
\trackW{MED12_SRX7573312(MED12-FLAG_col_control_ChIPseq)}{org}{4,4,19,19,19,19,19,33,48,39,33,33,39,48,77,77,85,106,106,85,92,106,92,100,100,92,92,100,85,71,92,100,92,77,48,54,54,39,33,33,33,25,25,33,33,33,33,19,25}
\trackD{MED12_SRX7573320(MED12-FLAG_rep1_ChIPseq)}{org}{8/1,9/3,8/4,9/5,8/6,9/8,7/10,8/12,9/15,8/17,7/18,6/19,5/20,4/22,5/25,4/26,5/27,4/30,5/31,4/33,3/34,2/37,3/39,2/41,1/49}
\trackD{MED12_SRX7573322(MED12-FLAG_rep2_ChIPseq)}{org}{9/3,8/5,9/7,8/10,7/13,6/15,4/16,3/17,2/19,1/49}
\trackW{MED25_SRX7445540(med25 ChIP-seq of arabidopsis)}{org}{4,12,12,23,12,23,31,31,31,42,61,61,61,42,42,42,42,42,69,108,98,88,88,61,42,23,4,31,69,61,42,42,42,42,61,69,79,79,50,50,50,69,69,69,98,98,98,88,61}
\trackD{MYC2_SRX5982476(myc2_MYC2:MYC2_FLAG_untreated)}{org}{9/1,8/3,7/8,6/10,5/12,4/14,3/18,2/19,1/29,2/30,3/32,4/34,6/35,5/36,4/37,5/41,6/43,7/45,6/47,7/48,8/49}
\trackW{MYC2_SRX6460101(MYC2_JA_2hr_ChIPseq_rep1)}{org}{88,69,69,79,73,58,65,58,58,73,54,73,73,65,84,94,94,98,88,94,88,94,83,83,98,102,98,102,106,83,98,73,79,69,50,50,31,31,31,31,35,35,35,31,12,12,8,8,4}
\trackD{MYC2_SRX6460102(MYC2_JA_2hr_ChIPseq_rep2)}{org}{5/1,3/2,5/3,6/4,5/8,8/9,6/10,8/11,9/12,8/16,9/18,8/19,7/20,6/23,4/25,5/27,3/29,4/30,1/42,2/43,3/44,4/49}
\trackW{MYC2_SRX6460103(MYC2_JA_2hr_ChIPseq_rep3)}{org}{23,31,31,33,46,62,73,87,106,96,77,77,56,64,64,79,73,96,92,96,92,87,85,75,64,56,62,46,10,25,10,4,4,6,23,25,25,4,10,33,46,64,56,69,69,73,69,69,69}
\trackD{MYC2_SRX6460104(MYC2_JA_2hr_ChIPseq_rep4)}{org}{1/6,2/7,1/8,2/9,1/10,2/12,4/16,3/20,2/22,3/23,4/25,5/26,4/27,5/28,3/30,5/31,7/32,6/33,8/34,7/36,6/37,8/39,9/42,8/43,7/44,9/46,7/48,8/49}
\trackD{MYC3_SRX6460105(MYC3_JA_2hr_ChIPseq_rep1)}{org}{9/2,8/3,7/4,6/5,5/6,3/8,1/9,2/10,5/12,6/13,5/15,6/16,7/17,5/19,2/20,1/25,4/26,5/27,8/28,7/29,5/30,3/31,2/32,3/33,5/34,4/36,1/37,2/38,1/40,2/42,3/43,1/44,5/45,1/49}
\trackW{MYC3_SRX6460106(MYC3_JA_2hr_ChIPseq_rep2)}{org}{106,106,83,79,73,79,79,83,75,73,73,73,64,64,64,54,58,58,58,44,44,37,35,52,48,37,44,37,27,27,27,27,27,23,16,23,27,35,37,31,27,23,23,4,12,16,4,4,16}
\trackW{MYC3_SRX6460107(MYC3_JA_2hr_ChIPseq_rep3)}{org}{82,88,98,82,82,98,88,98,107,94,107,98,88,94,107,78,78,78,59,63,38,38,34,38,42,30,38,38,19,19,4,4,9,19,9,9,4,4,13,9,9,4,13,9,13,19,23,13,13}
\trackW{PHE1_SRX5676333(silique.gfp.wt_rep1)}{org}{48,44,54,73,73,90,96,92,96,100,106,106,104,90,90,86,81,77,73,73,67,63,58,40,44,29,21,19,10,10,4,15,21,29,29,37,48,44,52,54,58,63,54,58,52,58,58,58,58}
\trackW{PHE1_SRX5676335(silique.gfp.wt_rep2)}{org}{36,36,30,25,25,30,19,25,19,19,19,19,13,4,4,9,9,13,13,19,19,13,13,13,36,30,30,19,19,30,40,36,46,51,51,40,46,51,82,88,99,92,99,107,88,92,92,92,88}
\trackD{PIF7_SRX5454258(PIF7::PIF7-MYC (D108)_ZT12_27C)}{org}{5/2,4/3,8/5,5/7,6/9,5/10,3/11,1/19,2/22,4/23,1/25,2/26,3/31,4/33,5/34,6/35,8/36,6/37,8/39,7/40,8/41,9/42,8/43,7/44,8/49}
\trackW{PIF7_SRX5454260(PIF7::PIF7-MYC (D108)_ZT8_27C)}{org}{3,23,16,31,16,16,10,10,3,3,10,10,16,16,23,23,31,45,37,45,51,45,58,45,66,72,66,58,72,87,79,93,93,106,100,100,93,79,79,66,72,66,51,58,45,37,51,51,51}
\trackW{PIF7_SRX5454262(PIF7::PIF7-MYC (D108)_ZT12_27C)}{org}{19,13,8,4,4,4,8,14,25,25,29,29,29,35,35,44,56,67,56,67,56,56,67,71,92,92,102,102,92,92,88,88,98,102,106,102,88,92,88,77,77,81,81,98,77,98,81,88,98}
\trackW{RBR1_SRX3531272(RBR1_ChIP_rep1)}{org}{51,54,52,43,31,3,18,14,39,43,52,54,62,66,83,62,62,62,66,75,54,43,25,52,58,66,54,70,52,62,58,58,47,39,35,70,87,79,75,79,87,106,106,95,95,95,100,79,79}
\trackW{RBR1_SRX3531273(RBR1_ChIP_rep2)}{org}{58,52,48,40,31,37,37,33,29,27,23,23,23,23,21,8,8,4,10,4,23,31,31,31,48,52,58,65,73,77,77,73,73,79,90,92,102,106,100,96,79,73,77,77,58,50,44,44,37}
\trackW{SE_ERX2858751(Arabidopsis Col-0 WT seedlings biorep1)}{org}{33,33,33,22,22,22,12,14,14,14,4,4,4,4,4,4,4,4,4,4,4,14,14,14,24,24,35,22,33,33,33,33,33,43,54,54,64,75,64,75,75,64,64,64,75,75,85,106,96}
\trackD{SE_ERX2858752(Arabidopsis Col-0 WT seedlings biorep1)}{org}{3/3,2/6,1/24,2/26,3/27,2/28,3/34,4/36,5/37,6/38,5/39,6/41,5/44,6/46,7/47,9/48,7/49}
\trackD{SE_ERX2858753(Arabidopsis Col-0 WT seedlings biorep1)}{org}{6/1,4/2,2/5,1/7,4/8,2/11,4/12,6/13,5/15,4/17,5/20,6/22,9/27,6/28,5/30,6/31,4/32,3/35,2/37,1/38,2/39,3/40,4/41,6/42,4/45,7/47,8/48,9/49}
\def\zs{1}
\trackW{SHL_SRX3226098(SHL ChIPSeq-1)}{org}{0,0,0,0,2,2,2,2,2,2,2,2,2,2,2,2,2,2,2,2,2,2,2,2,0,0,0,0,0,0,0,0,0,0,0,0,0,0,2,2,38,38,38,50,50,50,50,50,50}
\def\zs{2.25}
\trackW{SHL_SRX3226099(SHL ChIPSeq-2)}{org}{112,112,112,112,112,112,112,112,112,4,4,4,4,4,4,4,0,0,0,0,0,0,4,4,4,4,4,4,4,4,4,4,4,4,4,4,4,4,4,4,4,4,0,0,0,0,0,0,0}
\trackW{SMXL6_SRX7187013(s678 SMXL6HA_ChIPSeq_Rep1)}{org}{115,97,79,72,34,34,22,9,16,16,16,16,29,40,40,34,34,16,16,4,16,22,22,47,47,47,47,40,34,40,58,58,58,40,65,65,58,65,65,79,79,72,79,65,65,72,90,83,90}
\trackD{SMXL6_SRX7187015(s678 SMXL6HA_ChIPSeq_Rep2)}{org}{4/2,5/7,7/8,8/13,6/15,5/17,4/18,3/19,2/21,1/23,2/25,1/35,2/37,4/39,5/40,6/41,7/43,6/44,7/45,9/47,8/48,9/49}
\trackD{SOB3_SRX5001348(SOB3-GFP ChIP replicate 1)}{org}{5/2,3/3,2/4,1/6,3/7,5/8,4/9,5/10,4/14,7/15,6/16,5/19,7/20,6/22,7/25,9/26,7/29,5/30,3/31,4/32,3/33,6/34,3/35,6/37,7/39,5/40,6/41,4/42,3/43,2/45,1/48,2/49}
\trackW{SOB3_SRX5001349(SOB3-GFP ChIP replicate 2)}{org}{4,9,14,18,14,14,23,27,27,45,50,66,66,59,75,79,79,88,93,97,102,97,93,88,88,106,97,93,106,106,106,97,111,115,106,97,97,97,93,84,79,79,88,97,97,79,79,79,70}
\trackW{SOG1_SRX3866936(IP_SOG1-3xFLAG_20min)}{org}{32,23,14,5,5,5,23,23,50,41,41,32,50,50,41,50,50,61,70,50,23,14,23,32,41,70,79,70,88,88,79,61,50,50,61,50,61,61,50,108,108,115,115,97,97,79,50,50,23}
\trackD{SOG1_SRX3866937(IP_SOG1-3xFLAG_1h)}{org}{8/1,9/2,8/5,7/9,6/10,5/12,4/13,5/15,3/17,1/27,3/31,4/33,3/34,4/36,5/38,4/39,6/47,3/49}
\trackD{SPL7-SRX250135 (SRX250135: FLAG-SPL7 ChIP-seq)}{org}{8/1,9/4,7/5,9/15,6/20,3/22,2/25,1/32,0/37,1/45,2/48,3/49}
\trackD{SPT6L_SRX5169086(SPT6L-GFP IP rep1)}{org}{9/3,8/10,7/13,6/14,7/15,6/16,5/17,4/19,3/22,2/28,1/38,2/44,3/48,4/49}
\trackW{SPT6L_SRX5169087(SPT6L-GFP IP rep2)}{org}{101,106,110,115,108,108,108,112,115,110,106,106,101,99,90,79,68,63,61,61,45,45,36,29,29,20,18,18,11,16,11,7,5,7,7,7,11,16,13,13,7,5,5,9,13,16,18,18,20}
\trackD{STZ_SRX6460108(STZ_AIR_ChIPseq_rep1)}{org}{2/1,1/3,2/4,1/10,2/11,3/13,5/14,4/23,3/24,4/25,2/28,1/35,2/37,1/38,2/40,4/42,5/43,6/44,7/46,8/47,9/49}
\trackD{STZ_SRX6460109(STZ_AIR_ChIPseq_rep2)}{org}{2/1,1/7,2/11,3/12,2/13,3/16,2/17,3/20,4/21,5/24,7/25,6/26,4/28,6/29,7/30,6/31,5/33,6/34,7/36,8/38,9/39,8/40,7/43,8/46,9/48,7/49}
\trackW{STZ_SRX6460110(STZ_AIR_ChIPseq_rep3)}{org}{114,114,114,108,108,83,90,90,74,56,63,99,83,47,31,31,31,31,31,31,38,47,47,90,90,83,74,38,5,38,47,11,11,47,47,31,38,47,56,108,114,108,108,74,74,74,83,83,99}
\trackW{STZ_SRX6460111(STZ_JA_2hr_ChIPseq_rep1)}{org}{4,13,13,9,13,24,13,6,9,15,24,31,15,9,24,24,6,24,31,36,60,40,47,42,40,29,22,24,29,24,24,31,40,42,31,40,47,40,31,36,29,47,40,65,85,105,112,110,114}
\trackW{TCP4_SRX4168241(mTCP4_ChIP)}{org}{54,63,74,63,45,33,22,33,45,45,45,33,45,13,4,4,13,13,22,4,33,33,54,54,54,54,54,45,33,54,54,54,54,63,63,63,63,63,54,54,33,33,13,54,74,94,105,114,114}
\trackW{TFL1_ERX2826885(gTFL1-1xVenus_biorep1)}{org}{4,4,4,40,60,40,22,22,22,22,22,22,4,4,22,4,40,4,22,22,22,40,60,22,40,40,40,40,22,22,60,60,78,78,114,114,78,96,78,96,96,78,78,78,40,40,40,40,40}
\trackD{TFL1_ERX2826887(gTFL1-1xVenus_biorep3)}{org}{7/5,9/8,8/9,7/10,6/13,4/15,5/17,4/20,2/23,3/24,4/25,3/26,2/32,3/35,1/36,2/40,3/43,2/44,1/49}
\end{tikzpicture}
\end{document}
